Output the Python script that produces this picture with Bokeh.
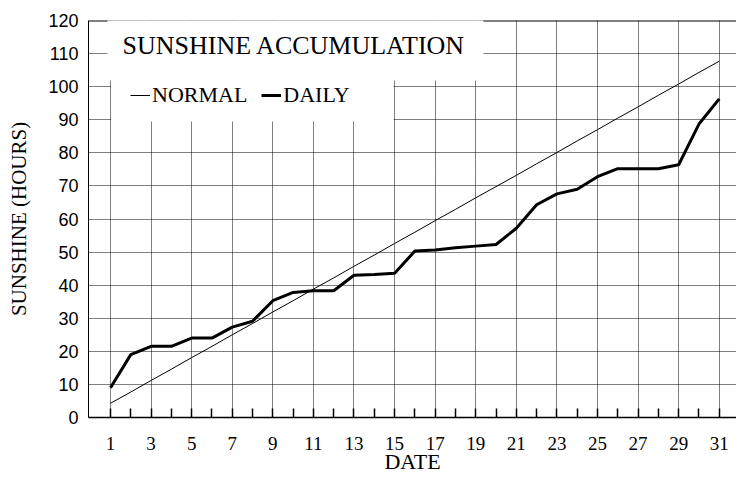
from bokeh.plotting import figure
from bokeh.models import (Range1d, FixedTicker, Span, BoxAnnotation, Label,
                          Legend, LegendItem)
from bokeh.embed import file_html
from bokeh.resources import INLINE

# ---- data ----
days = list(range(1, 32))
normal = [4.3, 7.7, 11.2, 14.6, 18.1, 21.5, 25.0, 28.4, 31.9, 35.3,
          38.8, 42.2, 45.7, 49.1, 52.6, 56.0, 59.5, 62.9, 66.4, 69.8,
          73.2, 76.7, 80.1, 83.6, 87.0, 90.5, 93.9, 97.4, 100.8, 104.3, 107.7]
daily = [9.0, 19.0, 21.5, 21.5, 24.0, 24.0, 27.3, 29.1, 35.3, 37.8,
         38.3, 38.3, 43.0, 43.2, 43.6, 50.3, 50.6, 51.3, 51.8, 52.3,
         57.2, 64.3, 67.6, 69.0, 72.8, 75.2, 75.2, 75.2, 76.4, 88.7, 96.3]
x_labels = {d: (str(d) if d % 2 == 1 else "") for d in days}
x_grid_days = [d for d in days if d % 2 == 1]
y_ticks = list(range(0, 121, 10))

title_text = "SUNSHINE ACCUMULATION"
x_title = "DATE"
y_title = "SUNSHINE (HOURS)"

SERIF = "Liberation Serif"
SANS = "Liberation Sans"

p = figure(width=736, height=479,
           x_range=Range1d(-0.084, 31.85), y_range=Range1d(0, 120),
           output_backend="svg", toolbar_location=None,
           min_border_left=88, min_border_right=0,
           min_border_top=20, min_border_bottom=62)
p.outline_line_color = None
p.background_fill_color = "white"
p.border_fill_color = "white"

# grid
p.xgrid.ticker = FixedTicker(ticks=x_grid_days)
p.ygrid.ticker = FixedTicker(ticks=y_ticks)
for g in (p.xgrid, p.ygrid):
    g.grid_line_color = "black"
    g.grid_line_dash = "1 1"
    g.grid_line_width = 1
    g.grid_line_alpha = 1

# top frame line
p.add_layout(Span(location=120, dimension="width", line_color="black",
                  line_width=2, level="underlay"))

# x axis
xa = p.xaxis[0]
xa.ticker = FixedTicker(ticks=days)
xa.major_label_overrides = x_labels
xa.major_tick_in = 9
xa.major_tick_out = 0
xa.minor_tick_in = 0
xa.minor_tick_out = 0
xa.major_tick_line_color = "black"
xa.major_tick_line_width = 1.5
xa.axis_line_color = "black"
xa.axis_line_width = 1.5
xa.major_label_text_font = SERIF
xa.major_label_text_font_size = "19px"
xa.major_label_text_color = "black"
xa.major_label_standoff = 19
xa.axis_label = x_title
xa.axis_label_text_font = SERIF
xa.axis_label_text_font_size = "22px"
xa.axis_label_text_font_style = "normal"
xa.axis_label_text_color = "black"
xa.axis_label_standoff = -4

# y axis
ya = p.yaxis[0]
ya.ticker = FixedTicker(ticks=y_ticks)
ya.major_tick_in = 0
ya.major_tick_out = 0
ya.minor_tick_in = 0
ya.minor_tick_out = 0
ya.axis_line_color = "black"
ya.axis_line_width = 1
ya.major_label_text_font = SANS
ya.major_label_text_font_size = "18px"
ya.major_label_text_color = "black"
ya.major_label_standoff = 10
ya.axis_label = y_title
ya.axis_label_text_font = SERIF
ya.axis_label_text_font_size = "21px"
ya.axis_label_text_font_style = "normal"
ya.axis_label_text_color = "black"
ya.axis_label_standoff = 14

# data lines
r_normal = p.line(days, normal, line_color="black", line_width=1)
r_daily = p.line(days, daily, line_color="black", line_width=3)

# white boxes behind title and legend
p.add_layout(BoxAnnotation(left=0.852, right=19.38, bottom=101.9, top=121,
                           fill_color="white", fill_alpha=1, line_alpha=0))
p.add_layout(BoxAnnotation(left=1.03, right=14.95, bottom=89.5, top=102,
                           fill_color="white", fill_alpha=1, line_alpha=0))

# title
p.add_layout(Label(x=1.59, y=112.45, text=title_text, text_font=SERIF,
                   text_font_size="26px", text_color="black",
                   text_baseline="middle", text_align="left"))

legend = Legend(items=[LegendItem(label="NORMAL", renderers=[r_normal]),
                       LegendItem(label="DAILY", renderers=[r_daily])],
                orientation="horizontal", location=(42, 309),
                glyph_width=20, glyph_height=22, label_height=22,
                label_standoff=2, spacing=14, padding=0, margin=0,
                background_fill_alpha=0, border_line_alpha=0,
                label_text_font=SERIF, label_text_font_size="22px",
                label_text_color="black")
p.add_layout(legend)

open("out.html", "w").write(file_html(p, INLINE))
